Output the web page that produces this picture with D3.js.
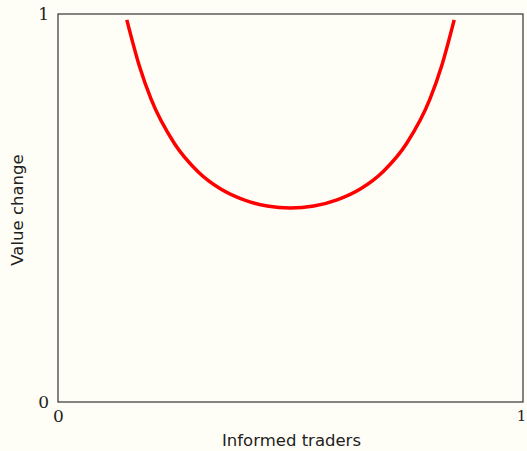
<!DOCTYPE html>
<html>
<head>
<meta charset="utf-8">
<script src="https://d3js.org/d3.v7.min.js"></script>
<style>
  body { margin: 0; background: #fffef6; }
  svg { display: block; background: #fffef6; }
  .tick text { font-family: "DejaVu Serif", serif; font-size: 17px; fill: #222; }
  .title { font-family: "DejaVu Sans", sans-serif; font-size: 16.5px; fill: #222; }
</style>
</head>
<body>
<svg></svg>
<script>
// values
const traders = [0.148, 0.175, 0.20, 0.25, 0.30, 0.35, 0.40, 0.45, 0.50, 0.55, 0.60, 0.65, 0.70, 0.75, 0.80, 0.825, 0.852];
const valueChange = [0.985, 0.866, 0.781, 0.667, 0.595, 0.549, 0.521, 0.505, 0.500, 0.505, 0.521, 0.549, 0.595, 0.667, 0.781, 0.866, 0.985];
const xTicks = [0, 1];
const yTicks = [0, 1];

const W = 527, H = 451;
const m = {top: 14, right: 4, bottom: 49, left: 58};
const w = W - m.left - m.right;
const h = H - m.top - m.bottom;

const svg = d3.select("svg").attr("width", W).attr("height", H);
const g = svg.append("g").attr("transform", `translate(${m.left},${m.top})`);

const x = d3.scaleLinear().domain([0, 1]).range([0, w]);
const y = d3.scaleLinear().domain([0, 1]).range([h, 0]);

g.append("rect")
  .attr("width", w).attr("height", h)
  .attr("fill", "none").attr("stroke", "#333").attr("stroke-width", 1.2);

const data = traders.map((t, i) => ({t: t, v: valueChange[i]}));

g.append("path")
  .datum(data)
  .attr("fill", "none")
  .attr("stroke", "#ff0000")
  .attr("stroke-width", 3.5)
  .attr("d", d3.line().x(d => x(d.t)).y(d => y(d.v)).curve(d3.curveMonotoneX));

const xAxis = g.append("g")
  .attr("transform", `translate(0,${h})`)
  .call(d3.axisBottom(x).tickValues(xTicks).tickSize(0).tickPadding(8).tickFormat(d3.format("d")));
xAxis.select(".domain").remove();
xAxis.selectAll(".tick text").filter(d => d === 1).attr("dx", -2).style("font-size", "15px");

const yAxis = g.append("g")
  .call(d3.axisLeft(y).tickValues(yTicks).tickSize(0).tickPadding(9).tickFormat(d3.format("d")));
yAxis.select(".domain").remove();

svg.append("text").attr("class", "title")
  .attr("x", m.left + w / 2 + 1).attr("y", 446)
  .attr("text-anchor", "middle")
  .text("Informed traders");

svg.append("text").attr("class", "title")
  .attr("transform", `translate(23,${m.top + h / 2 + 2}) rotate(-90)`)
  .attr("text-anchor", "middle")
  .text("Value change");
</script>
</body>
</html>
